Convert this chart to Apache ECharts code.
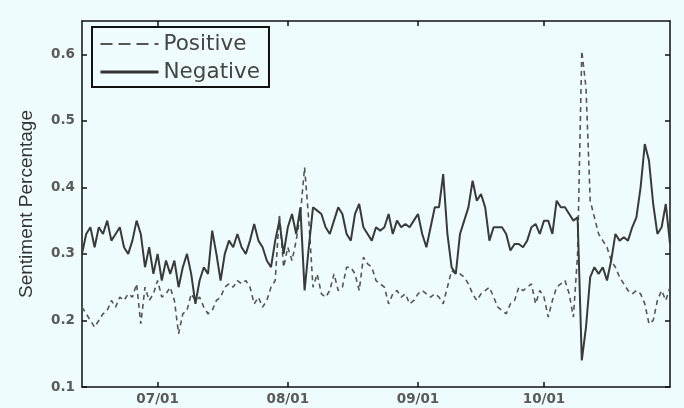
<!DOCTYPE html>
<html>
<head>
<meta charset="utf-8">
<script src="https://cdn.jsdelivr.net/npm/echarts@6/dist/echarts.min.js"></script>
<style>
  html, body { margin: 0; padding: 0; background: #effcfd; }
  #chart { width: 684px; height: 408px; }
</style>
</head>
<body>
<div id="chart"></div>
<script>
// daily values, first day 06/13, last day 10/31
var startDate = [2011, 5, 13]
var monthTicks = ['07/01', '08/01', '09/01', '10/01']
var yTicks = [0.1, 0.2, 0.3, 0.4, 0.5, 0.6]

var positive = [
  0.22, 0.21, 0.20, 0.19, 0.20, 0.21, 0.215, 0.23, 0.22, 0.235,
  0.23, 0.24, 0.235, 0.255, 0.195, 0.25, 0.23, 0.24, 0.26, 0.235,
  0.24, 0.25, 0.23, 0.18, 0.21, 0.215, 0.24, 0.23, 0.235, 0.22,
  0.21, 0.215, 0.23, 0.235, 0.25, 0.255, 0.25, 0.26, 0.255, 0.26,
  0.25, 0.225, 0.235, 0.22, 0.23, 0.25, 0.26, 0.36, 0.28, 0.31,
  0.29, 0.32, 0.36, 0.43, 0.35, 0.25, 0.27, 0.24, 0.235, 0.245,
  0.27, 0.245, 0.25, 0.28, 0.28, 0.27, 0.245, 0.295, 0.285, 0.28,
  0.26, 0.255, 0.25, 0.225, 0.24, 0.245, 0.235, 0.24, 0.225, 0.23,
  0.24, 0.245, 0.24, 0.235, 0.24, 0.235, 0.225, 0.25, 0.275, 0.27,
  0.27, 0.265, 0.255, 0.24, 0.23, 0.24, 0.245, 0.25, 0.235, 0.22,
  0.215, 0.21, 0.225, 0.23, 0.25, 0.245, 0.25, 0.255, 0.225, 0.245,
  0.235, 0.205, 0.23, 0.25, 0.255, 0.26, 0.24, 0.205, 0.30, 0.605,
  0.55, 0.38, 0.355, 0.33, 0.32, 0.31, 0.29, 0.28, 0.265, 0.255,
  0.245, 0.24, 0.245, 0.24, 0.225, 0.195, 0.20, 0.23, 0.245, 0.23,
  0.25
]

var negative = [
  0.30, 0.33, 0.34, 0.31, 0.34, 0.33, 0.35, 0.32, 0.33, 0.34,
  0.31, 0.30, 0.32, 0.35, 0.33, 0.28, 0.31, 0.27, 0.30, 0.26,
  0.29, 0.27, 0.29, 0.25, 0.28, 0.30, 0.27, 0.225, 0.26, 0.28,
  0.27, 0.335, 0.30, 0.26, 0.30, 0.32, 0.31, 0.33, 0.31, 0.30,
  0.32, 0.345, 0.32, 0.31, 0.29, 0.28, 0.32, 0.35, 0.30, 0.34,
  0.36, 0.33, 0.37, 0.245, 0.31, 0.37, 0.365, 0.36, 0.34, 0.33,
  0.35, 0.37, 0.36, 0.33, 0.32, 0.36, 0.375, 0.34, 0.33, 0.32,
  0.34, 0.335, 0.34, 0.36, 0.33, 0.35, 0.34, 0.345, 0.34, 0.35,
  0.36, 0.33, 0.31, 0.34, 0.37, 0.37, 0.42, 0.33, 0.28, 0.27,
  0.33, 0.35, 0.37, 0.41, 0.38, 0.39, 0.37, 0.32, 0.34, 0.34,
  0.34, 0.33, 0.305, 0.315, 0.315, 0.31, 0.32, 0.34, 0.345, 0.33,
  0.35, 0.35, 0.33, 0.38, 0.37, 0.37, 0.36, 0.35, 0.355, 0.14,
  0.19, 0.265, 0.28, 0.27, 0.28, 0.26, 0.29, 0.33, 0.32, 0.325,
  0.32, 0.34, 0.355, 0.40, 0.465, 0.44, 0.375, 0.33, 0.34, 0.375,
  0.315
]

// day labels MM/DD for each point, the x axis is the day number
var dayLabels = []
for (var i = 0; i < negative.length; i++) {
  var d = new Date(startDate[0], startDate[1], startDate[2] + i)
  dayLabels.push(('0' + (d.getMonth() + 1)).slice(-2) + '/' + ('0' + d.getDate()).slice(-2))
}
var tickDays = monthTicks.map(function (s) { return dayLabels.indexOf(s) })

function pairs(vals) {
  return vals.map(function (v, i) { return [i, v] })
}

var font = 'Liberation Sans, Arial, sans-serif'
var wideFont = 'DejaVu Sans, sans-serif'
var axisLine = { show: true, onZero: false, lineStyle: { color: '#111', width: 1.5 } }
var tickStyle = { color: '#111', width: 1.5 }

var chart = echarts.init(document.getElementById('chart'))
chart.setOption({
  backgroundColor: '#effcfd',
  animation: false,
  grid: { left: 82, right: 14, top: 21, bottom: 21 },
  legend: {
    orient: 'vertical',
    left: 92,
    top: 27,
    padding: [6, 9, 4, 7],
    itemGap: 6,
    itemWidth: 58,
    itemHeight: 20,
    borderColor: '#111',
    borderWidth: 2,
    itemStyle: { opacity: 0 },
    lineStyle: { width: 2.5 },
    textStyle: { fontFamily: wideFont, fontSize: 21.5, color: '#444', padding: [0, 0, 0, 0] },
    data: [
      { name: 'Positive', lineStyle: { type: [12, 6], width: 2, color: '#555' } },
      { name: 'Negative', lineStyle: { width: 3, color: '#333' } }
    ]
  },
  xAxis: [{
    type: 'value',
    min: 0,
    max: negative.length - 1,
    axisLine: axisLine,
    splitLine: { show: false },
    axisTick: { show: true, inside: true, length: 5, lineStyle: tickStyle, customValues: tickDays },
    axisLabel: {
      customValues: tickDays,
      fontFamily: wideFont, fontWeight: 'bold', fontSize: 13.5, color: '#5a5a5a', margin: 5,
      formatter: function (v) { return dayLabels[Math.round(v)] }
    }
  }, {
    type: 'value',
    position: 'top',
    min: 0,
    max: negative.length - 1,
    axisLine: axisLine,
    splitLine: { show: false },
    axisTick: { show: true, inside: true, length: 5, lineStyle: tickStyle, customValues: tickDays },
    axisLabel: { show: false }
  }],
  yAxis: [{
    type: 'value',
    min: 0.1,
    max: 0.65,
    interval: 0.1,
    name: 'Sentiment Percentage',
    nameLocation: 'middle',
    nameGap: 46,
    nameTextStyle: { fontFamily: font, fontSize: 19, color: '#333' },
    axisLine: axisLine,
    splitLine: { show: false },
    axisTick: { show: true, inside: true, length: 5, lineStyle: tickStyle, customValues: yTicks },
    axisLabel: {
      customValues: yTicks,
      fontFamily: wideFont, fontWeight: 'bold', fontSize: 13.5, color: '#5a5a5a', margin: 7,
      formatter: function (v) { return v.toFixed(1) }
    }
  }, {
    type: 'value',
    position: 'right',
    min: 0.1,
    max: 0.65,
    interval: 0.1,
    axisLine: axisLine,
    splitLine: { show: false },
    axisTick: { show: true, inside: true, length: 5, lineStyle: tickStyle, customValues: yTicks },
    axisLabel: { show: false }
  }],
  series: [{
    name: 'Positive',
    type: 'line',
    symbol: 'none',
    xAxisIndex: 0,
    yAxisIndex: 0,
    color: '#555',
    lineStyle: { color: '#555', width: 1.6, type: [5, 4] },
    data: pairs(positive)
  }, {
    name: 'Negative',
    type: 'line',
    symbol: 'none',
    xAxisIndex: 0,
    yAxisIndex: 0,
    color: '#3a3a3a',
    lineStyle: { color: '#3a3a3a', width: 2 },
    data: pairs(negative)
  }]
})
</script>
</body>
</html>
